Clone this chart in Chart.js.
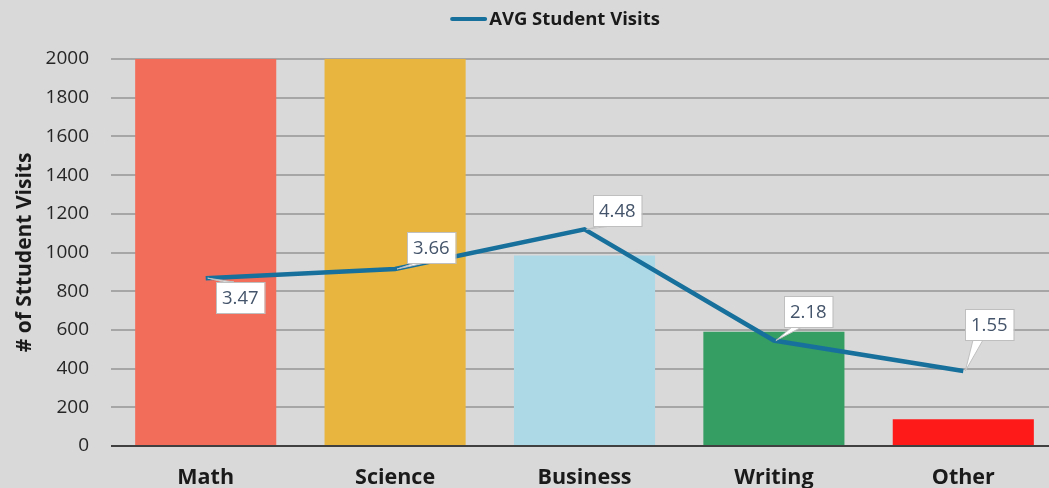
<!DOCTYPE html>
<html><head><meta charset="utf-8">
<script src="https://cdn.jsdelivr.net/npm/chart.js@4.4.1/dist/chart.umd.min.js"></script>
<style>
html,body{margin:0;padding:0;background:#d9d9d9;overflow:hidden;}
#wrap{width:1060px;height:488px;position:relative;}
</style></head><body>
<div id="wrap"><canvas id="c" width="1060" height="488"></canvas></div>
<script>
const categories = ['Math','Science','Business','Writing','Other'];
const visitCounts = [2000, 2000, 985, 590, 138];
const avgVisits = [3.47, 3.66, 4.48, 2.18, 1.55];
const barColors = ['#f26e5b','#e8b53f','#add8e6','#359e63','#ff1a1a'];
const yTicks = [0,200,400,600,800,1000,1200,1400,1600,1800,2000];
const seriesName = 'AVG Student Visits';
const labelOffsets = [[35,19],[36,-21],[33,-19],[34,-29],[26,-47]];

const FONT = "'Open Sans', 'Liberation Sans', sans-serif";
const lineColor = '#17709b';

const legendPlugin = {
  id:'customLegend',
  afterDraw(chart){
    const ctx = chart.ctx;
    ctx.save();
    ctx.font = "bold 18.5px " + FONT;
    const tw = ctx.measureText(seriesName).width;
    const lineW = 37, gap = 2;
    const total = lineW + gap + tw;
    const cx = 555, cy = 19;
    const x0 = cx - total/2;
    ctx.strokeStyle = lineColor; ctx.lineWidth = 4; ctx.lineCap = 'round';
    ctx.beginPath(); ctx.moveTo(x0+2, cy); ctx.lineTo(x0+lineW-2, cy); ctx.stroke();
    ctx.fillStyle = '#1a1a1a'; ctx.textBaseline = 'middle'; ctx.textAlign = 'left';
    ctx.fillText(seriesName, x0 + lineW + gap, cy+1);
    ctx.restore();
  }
};

const calloutPlugin = {
  id:'callouts',
  afterDatasetsDraw(chart){
    const meta = chart.getDatasetMeta(0);
    const ctx = chart.ctx;
    ctx.save();
    ctx.font = "18.5px " + FONT;
    meta.data.forEach((pt,i)=>{
      const txt = avgVisits[i].toFixed(2);
      const w = ctx.measureText(txt).width + 12, h = 31;
      const cx = pt.x + labelOffsets[i][0], cy = pt.y + labelOffsets[i][1];
      const x0 = Math.round(cx - w/2), y0 = Math.round(cy - h/2);
      ctx.fillStyle = '#ffffff';
      ctx.strokeStyle = '#bfbfbf';
      ctx.lineWidth = 1;
      const below = labelOffsets[i][1] > 0;
      const baseY = below ? y0 : y0 + h;
      const bx = x0 + 8;
      ctx.beginPath();
      ctx.moveTo(bx, baseY);
      ctx.lineTo(pt.x + 2, pt.y);
      ctx.lineTo(bx + 10, baseY);
      ctx.closePath();
      ctx.fill();
      ctx.stroke();
      ctx.fillRect(x0, y0, w, h);
      ctx.strokeRect(x0+0.5, y0+0.5, w, h);
      ctx.fillStyle = '#44546a';
      ctx.textAlign = 'center';
      ctx.textBaseline = 'middle';
      ctx.fillText(txt, x0 + w/2, y0 + h/2 + 1);
    });
    ctx.restore();
  }
};

new Chart(document.getElementById('c'), {
  data: {
    labels: categories,
    datasets: [
      { type:'line', label:seriesName, data: avgVisits, yAxisID:'y1',
        borderColor: lineColor, backgroundColor: lineColor, borderWidth: 4.5,
        pointRadius: 0, tension: 0, order: 0 },
      { type:'bar', label:'Visits', data: visitCounts, yAxisID:'y',
        backgroundColor: barColors, borderWidth: 0,
        barPercentage: 0.745, categoryPercentage: 1.0, order: 1 }
    ]
  },
  options: {
    responsive:false, animation:false,
    layout:{ padding:{ left:0, right:2, top:59, bottom:0 } },
    plugins:{ tooltip:{enabled:false}, legend:{display:false} },
    scales:{
      x:{
        grid:{display:false, drawTicks:false},
        border:{display:false},
        ticks:{color:'#1a1a1a', padding:19, font:{family:FONT, size:21.5, weight:'bold'}},
        afterFit:(s)=>{ s.height = 42; }
      },
      y:{
        min:0, max:2000,
        afterBuildTicks:(s)=>{ s.ticks = yTicks.map(v=>({value:v})); },
        grid:{ drawTicks:false, lineWidth:2,
          color:(c)=> c.tick && c.tick.value===0 ? '#404040' : '#a6a6a6' },
        border:{display:false},
        ticks:{color:'#262626', padding:22, font:{family:FONT, size:19},
          callback:(v)=> String(v)},
        title:{display:true, text:'# of Sttudent Visits', color:'#1a1a1a',
          font:{family:FONT, size:21, weight:'bold'}, padding:{top:12,bottom:0}},
        afterFit:(s)=>{ s.width = 111; }
      },
      y1:{ display:false, min:0, max:8, position:'right' }
    }
  },
  plugins:[calloutPlugin, legendPlugin]
});
</script>
</body></html>
